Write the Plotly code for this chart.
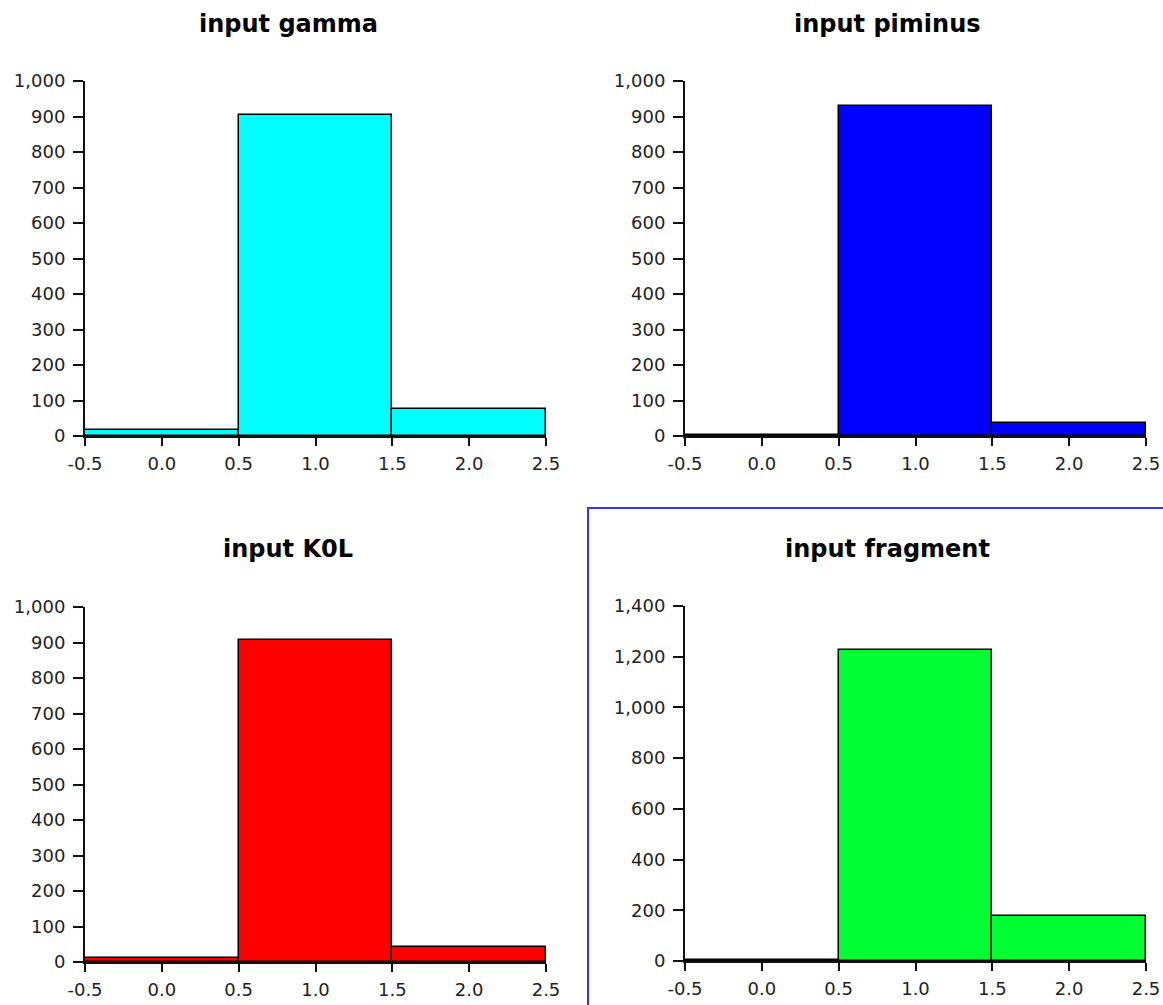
import plotly.graph_objects as go

# ---- data ----
bin_centers = [0.0, 1.0, 2.0]
titles = ["input gamma", "input piminus", "input K0L", "input fragment"]
gamma_counts = [17, 905, 77]
piminus_counts = [4, 930, 37]
k0l_counts = [10, 908, 43]
fragment_counts = [5, 1225, 178]
colors = ["#00FFFF", "#0000FF", "#FF0000", "#00FF33"]
y_max = [1000, 1000, 1000, 1400]
y_step = [100, 100, 100, 200]
x_tickvals = [-0.5, 0.0, 0.5, 1.0, 1.5, 2.0, 2.5]
x_ticklabels = ["-0.5", "0.0", "0.5", "1.0", "1.5", "2.0", "2.5"]
x_up_ticks = [0.0, 2.5]

series = [gamma_counts, piminus_counts, k0l_counts, fragment_counts]

W, H = 1163, 1005
# pixel geometry of each panel: (x_left, x_right, y_zero, y_top)
panels = [
    (85, 546, 436, 81),
    (685, 1146, 436, 81),
    (85, 546, 962, 607),
    (685, 1146, 961, 606),
]
title_pos = [(288, 24), (887, 24), (288, 549), (887, 549)]

fig = go.Figure()
tick_font = dict(family="DejaVu Sans", size=18, color="#222222")

for i in range(4):
    xl, xr, yz, yt = panels[i]
    xd = [xl / W, xr / W]
    yd = [(H - yz) / H, (H - yt) / H]
    n = i + 1
    xa = "x" if n == 1 else f"x{n}"
    ya = "y" if n == 1 else f"y{n}"
    fig.add_trace(go.Bar(
        x=bin_centers, y=series[i], width=1.0,
        marker=dict(color=colors[i], line=dict(color="black", width=1.5)),
        xaxis=xa, yaxis=ya, showlegend=False, hoverinfo="skip",
    ))
    xkey = "xaxis" if n == 1 else f"xaxis{n}"
    ykey = "yaxis" if n == 1 else f"yaxis{n}"
    fig.update_layout(**{
        xkey: dict(domain=xd, anchor=ya, range=[-0.5, 2.5], tickvals=x_tickvals,
                   ticktext=x_ticklabels, ticks="outside", ticklen=8,
                   tickwidth=1.5, tickcolor="#111111", showline=True,
                   linecolor="#111111", linewidth=2, showgrid=False,
                   zeroline=False, tickfont=tick_font, ticklabelstandoff=2,
                   automargin=False, fixedrange=True),
        ykey: dict(domain=yd, anchor=xa, range=[0, y_max[i]], dtick=y_step[i],
                   tick0=0, tickformat=",d", ticks="outside", ticklen=10,
                   tickwidth=1.5, tickcolor="#111111", showline=True,
                   linecolor="#111111", linewidth=2, showgrid=False,
                   zeroline=False, tickfont=tick_font, ticklabelstandoff=4,
                   automargin=False, fixedrange=True),
    })
    # overlay axes for the inward half of the crossing ticks
    ox = 4 + n
    fig.update_layout(**{
        f"yaxis{ox}": dict(overlaying=ya, anchor=xa, side="left",
                           range=[0, y_max[i]], dtick=y_step[i], tick0=0,
                           ticks="inside", ticklen=10, tickwidth=1.5,
                           tickcolor="#111111", showticklabels=False,
                           showline=False, showgrid=False, zeroline=False,
                           automargin=False, fixedrange=True),
        f"xaxis{ox}": dict(overlaying=xa, anchor=ya, side="bottom",
                           range=[-0.5, 2.5], tickvals=x_up_ticks,
                           ticks="inside", ticklen=9, tickwidth=1.5,
                           tickcolor="#111111", showticklabels=False,
                           showline=False, showgrid=False, zeroline=False,
                           automargin=False, fixedrange=True),
    })
    tx, ty = title_pos[i]
    fig.add_annotation(text=f"<b>{titles[i]}</b>", x=tx / W, y=(H - ty) / H,
                       xref="paper", yref="paper", showarrow=False,
                       xanchor="center", yanchor="middle",
                       font=dict(family="DejaVu Sans", size=24, color="black"))

# blue selection border around the last panel
fig.add_shape(type="rect", xref="paper", yref="paper",
              x0=588 / W, x1=1.02, y0=-0.02, y1=(H - 508) / H,
              line=dict(color="#3333FF", width=2), fillcolor="rgba(0,0,0,0)")

fig.update_layout(width=W, height=H, margin=dict(l=0, r=0, t=0, b=0),
                  paper_bgcolor="white", plot_bgcolor="white", bargap=0)

fig.write_html("out.html")
